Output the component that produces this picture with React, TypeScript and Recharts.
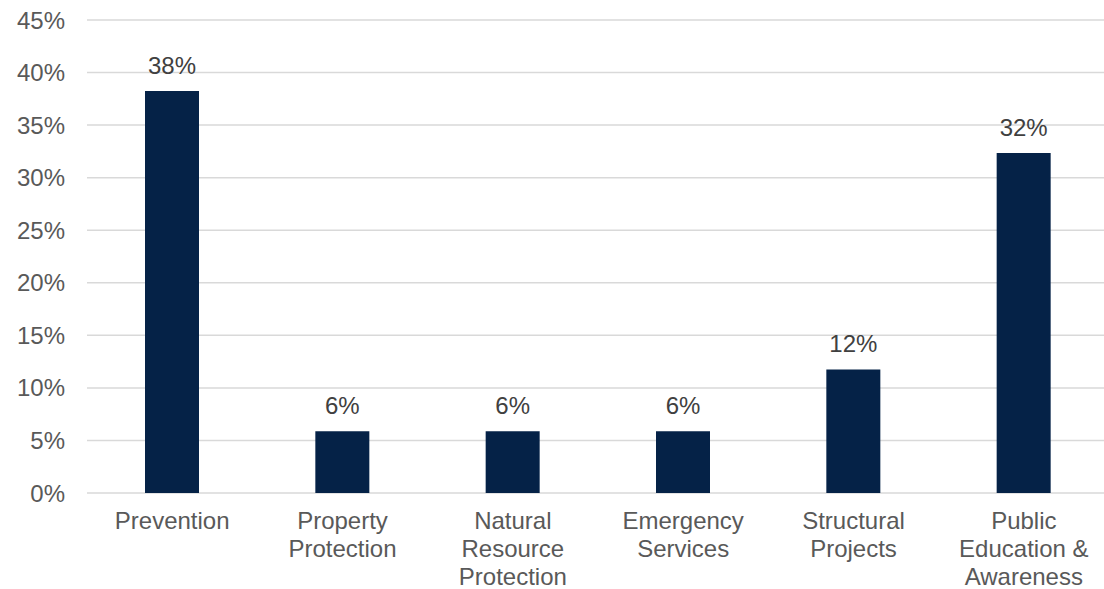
import React from "react";
import {BarChart, Bar, XAxis, YAxis, CartesianGrid, LabelList} from "recharts";

const categories = [
  "Prevention",
  "Property\nProtection",
  "Natural\nResource\nProtection",
  "Emergency\nServices",
  "Structural\nProjects",
  "Public\nEducation &\nAwareness",
];
const shares = [38.24, 5.88, 5.88, 5.88, 11.76, 32.35];
const yTicks = [0, 5, 10, 15, 20, 25, 30, 35, 40, 45];

const data = categories.map((name, i) => ({name, share: shares[i]}));

const FONT = "'Liberation Sans', Arial, sans-serif";

function CategoryTick(props: any) {
  const {x, y, payload} = props;
  const lines = String(payload.value).split("\n");
  return (
    <text x={x} y={y} textAnchor="middle" fill="#595959" fontSize={24} fontFamily={FONT}>
      {lines.map((line, i) => (
        <tspan key={i} x={x} dy={i === 0 ? 28 : 28}>
          {line}
        </tspan>
      ))}
    </text>
  );
}

export default function App() {
  return (
    <div style={{position: "absolute", left: 0, top: 0, width: 1104, height: 589, overflow: "hidden", background: "#fff"}}>
      <BarChart
        width={1120}
        height={589}
        data={data}
        margin={{top: 20, right: 11, left: 0, bottom: 66}}
        barCategoryGap={0}
      >
        <CartesianGrid vertical={false} stroke="#d9d9d9" strokeWidth={1.5} />
        <XAxis
          dataKey="name"
          axisLine={false}
          tickLine={false}
          interval={0}
          height={30}
          tick={<CategoryTick />}
        />
        <YAxis
          width={87}
          domain={[0, 45]}
          ticks={yTicks}
          axisLine={false}
          tickLine={false}
          tickMargin={16}
          tickFormatter={(v: number) => `${v}%`}
          tick={{fill: "#595959", fontSize: 24, fontFamily: FONT}}
        />
        <Bar dataKey="share" fill="#052247" barSize={54} isAnimationActive={false}>
          <LabelList
            dataKey="share"
            position="top"
            offset={17}
            formatter={(v: number) => `${Math.round(v)}%`}
            fill="#404040"
            fontSize={24}
            fontFamily={FONT}
          />
        </Bar>
      </BarChart>
    </div>
  );
}
